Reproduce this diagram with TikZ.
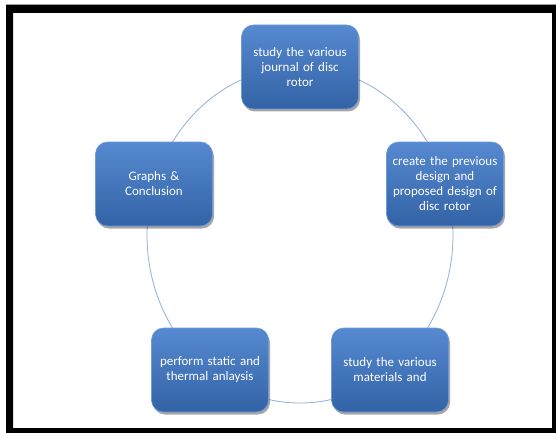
\documentclass[tikz,border=0pt]{standalone}
\usepackage{fontspec}
\setmainfont{Carlito}
\usetikzlibrary{shadows}
\definecolor{ringblue}{HTML}{8FB0DC}
\definecolor{boxtop}{HTML}{5689D0}
\definecolor{boxbot}{HTML}{3363A6}
\definecolor{boxedge}{HTML}{6F9BD8}
\tikzset{
  stagebox/.style={rounded corners=12pt, minimum width=117pt, minimum height=84pt,
    text width=112pt, align=center, inner sep=0pt, font=\fontsize{13}{15}\selectfont,
    text=white, top color=boxtop, bottom color=boxbot, draw=boxedge, line width=0.6pt,
    drop shadow={shadow xshift=1.5pt, shadow yshift=-2.5pt, fill=black, opacity=0.35}},
  ring/.style={draw=ringblue, line width=0.8pt}
}
\begin{document}
\begin{tikzpicture}[x=1pt,y=-1pt]
\useasboundingbox (0,0) rectangle (556,433);
\fill[white] (0,0) rectangle (556,433);
\draw[gray!60, line width=0.8pt] (6,4.6) -- (556,4.6);
\fill[black,even odd rule] (6,5) rectangle (556,433) (13,13) rectangle (552,428);
\coordinate (c) at (300,235);
\draw[ring] (c) ellipse [x radius=153, y radius=168];
\node[stagebox] (s1) at (300,67) {study the various\\journal of disc\\rotor};
\node[stagebox] (s2) at (445,184) {create the previous\\design and\\proposed design of\\disc rotor};
\node[stagebox] (s3) at (390,370) {study the various\\materials and};
\node[stagebox] (s4) at (210,370) {perform static and\\thermal anlaysis};
\node[stagebox] (s5) at (154,184) {Graphs \&\\Conclusion};
\end{tikzpicture}
\end{document}
